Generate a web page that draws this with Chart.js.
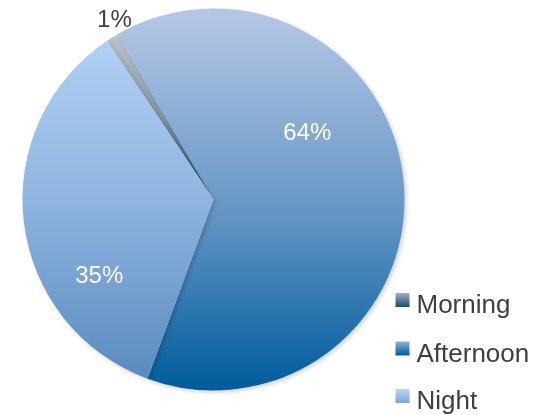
<!DOCTYPE html>
<html>
<head>
<meta charset="utf-8">
<script src="https://cdn.jsdelivr.net/npm/chart.js@4.4.1/dist/chart.umd.min.js"></script>
<style>
  html, body { margin: 0; padding: 0; background: #fff; }
  #wrap { width: 538px; height: 415px; position: relative; }
</style>
</head>
<body>
<div id="wrap"><canvas id="timeChart"></canvas></div>
<script>
const labels = ["Morning", "Afternoon", "Night"];
const shares = [1, 64, 35];

// gradient stops per slice: [top, middle, bottom]
const sliceStops = [
  ["#bcc4cc", "#7f95aa", "#1d4a73"],
  ["#b6c7e5", "#6b9ac7", "#005c9d"],
  ["#b8d5f8", "#8fb5e0", "#5688bd"]
];
const boxStops = [
  ["#a6b2c0", "#1b4871"],
  ["#8fb3da", "#005a9b"],
  ["#bcd7f6", "#7aa6d7"]
];

// label placement: angle shift (deg) from slice middle, radius fraction, colour
const labelPlace = [
  { shift: 3, dist: 1.07, color: "#404040" },
  { shift: -30, dist: 0.6, color: "#ffffff" },
  { shift: -27, dist: 0.72, color: "#ffffff" }
];

function sliceFill(ctx) {
  const chart = ctx.chart;
  const area = chart.chartArea;
  if (!area) return sliceStops[ctx.dataIndex][1];
  const s = sliceStops[ctx.dataIndex];
  let g;
  if (ctx.dataIndex === 0) {
    const cy = (area.top + area.bottom) / 2;
    g = chart.ctx.createLinearGradient(0, area.top + 25, 0, cy);
  } else {
    g = chart.ctx.createLinearGradient(0, area.top, 0, area.bottom);
  }
  g.addColorStop(0, s[0]);
  g.addColorStop(0.5, s[1]);
  g.addColorStop(1, s[2]);
  return g;
}

const pieShadow = {
  id: "pieShadow",
  beforeDatasetDraw(chart) {
    const c = chart.ctx;
    c.save();
    c.shadowColor = "rgba(0,0,0,0.18)";
    c.shadowBlur = 4;
    c.shadowOffsetX = 2;
    c.shadowOffsetY = 2;
  },
  afterDatasetDraw(chart) {
    chart.ctx.restore();
  }
};

const pctLabels = {
  id: "pctLabels",
  afterDatasetsDraw(chart) {
    const c = chart.ctx;
    const meta = chart.getDatasetMeta(0);
    c.save();
    c.font = "24px 'Liberation Sans', Arial, sans-serif";
    c.textAlign = "center";
    c.textBaseline = "middle";
    meta.data.forEach((arc, i) => {
      const p = labelPlace[i];
      const mid = (arc.startAngle + arc.endAngle) / 2 + p.shift * Math.PI / 180;
      const r = arc.outerRadius * p.dist;
      c.fillStyle = p.color;
      c.fillText(shares[i] + "%", arc.x + Math.cos(mid) * r, arc.y + Math.sin(mid) * r);
    });
    c.restore();
  }
};

// legend to the lower right of the pie
const sideLegend = {
  id: "sideLegend",
  afterDraw(chart) {
    const c = chart.ctx;
    const area = chart.chartArea;
    const x = area.right - 9;
    const baselines = [313, 361.5, 409];
    c.save();
    c.font = "26px 'Liberation Sans', Arial, sans-serif";
    c.textBaseline = "alphabetic";
    labels.forEach((name, i) => {
      const top = baselines[i] - 20;
      const g = c.createLinearGradient(0, top, 0, top + 14);
      g.addColorStop(0, boxStops[i][0]);
      g.addColorStop(1, boxStops[i][1]);
      c.fillStyle = g;
      c.fillRect(x, top, 14, 14);
      c.fillStyle = "#3f3f3f";
      c.fillText(name, x + 21, baselines[i]);
    });
    c.restore();
  }
};

new Chart(document.getElementById("timeChart"), {
  type: "pie",
  data: {
    labels: labels,
    datasets: [
      {
        data: shares,
        backgroundColor: sliceFill,
        borderWidth: 0
      }
    ]
  },
  options: {
    responsive: true,
    maintainAspectRatio: false,
    animation: false,
    rotation: -33.8,
    layout: { padding: { left: 22.5, right: 133.5, top: 8.5, bottom: 24.5 } },
    plugins: {
      legend: { display: false },
      tooltip: { enabled: false }
    }
  },
  plugins: [pieShadow, pctLabels, sideLegend]
});
</script>
</body>
</html>
